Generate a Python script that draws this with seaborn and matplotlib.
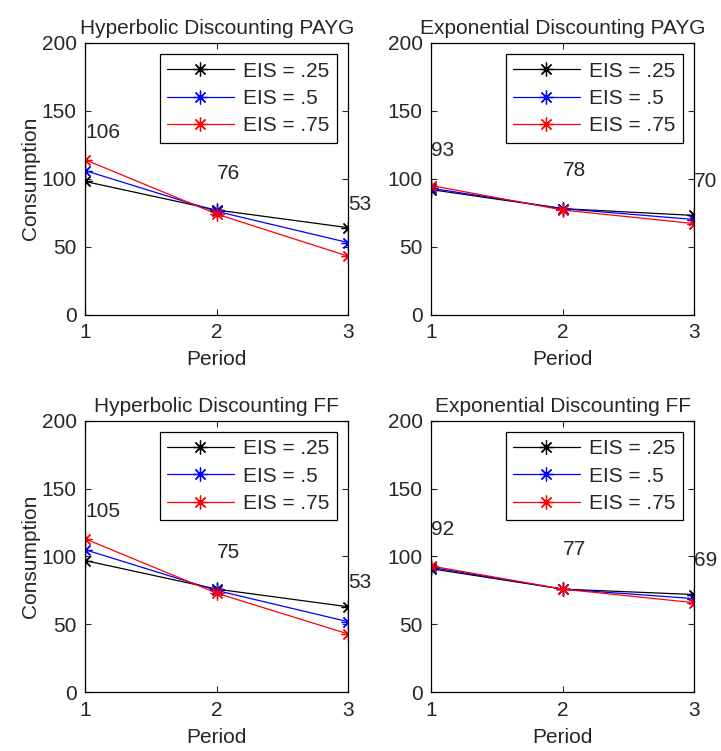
import numpy as np
import pandas as pd
import matplotlib
matplotlib.use("Agg")
import matplotlib.pyplot as plt
import seaborn as sns

# data
periods = [1, 2, 3]
eis_labels = ["EIS = .25", "EIS = .5", "EIS = .75"]
colors = ["black", "blue", "red"]

hyp_payg = [[98, 77, 64], [106, 76, 53], [114, 74, 43]]
exp_payg = [[92, 78, 73], [93, 78, 70], [95, 77, 67]]
hyp_ff = [[97, 76, 63], [105, 75, 52], [113, 73, 43]]
exp_ff = [[91, 76, 72], [92, 76, 69], [93, 76, 66]]

hyp_payg_notes = [106, 76, 53]
exp_payg_notes = [93, 78, 70]
hyp_ff_notes = [105, 75, 53]
exp_ff_notes = [92, 77, 69]

panels = [
    ("Hyperbolic Discounting PAYG", hyp_payg, hyp_payg_notes),
    ("Exponential Discounting PAYG", exp_payg, exp_payg_notes),
    ("Hyperbolic Discounting FF", hyp_ff, hyp_ff_notes),
    ("Exponential Discounting FF", exp_ff, exp_ff_notes),
]

sns.set_theme(style="ticks")
plt.rcParams["font.family"] = ["Liberation Sans", "DejaVu Sans"]
fs = 15

fig = plt.figure(figsize=(7.21, 7.51), dpi=100)
lefts = [0.118, 0.598]
bottoms = [0.581, 0.078]
w, h = 0.365, 0.362

asterisk = (8, 2, 0)

for i, (title, series, notes) in enumerate(panels):
    ax = fig.add_axes([lefts[i % 2], bottoms[i // 2], w, h])
    for vals, lab, col in zip(series, eis_labels, colors):
        df = pd.DataFrame({"Period": periods, "Consumption": vals})
        sns.lineplot(data=df, x="Period", y="Consumption", color=col, label=lab,
                     marker=asterisk, markersize=10, markeredgecolor=col,
                     markeredgewidth=0.9, linewidth=0.9, ax=ax)
    # value annotations above the points
    for x, n in zip(periods, notes):
        ax.text(x, n + 28, str(n), ha="left", va="center", fontsize=fs)

    ax.set_xlim(1, 3)
    ax.set_ylim(0, 200)
    ax.set_xticks([1, 2, 3])
    ax.set_yticks([0, 50, 100, 150, 200])
    ax.tick_params(direction="in", top=True, right=True, length=4, width=0.8,
                   labelsize=fs, pad=6)
    for s in ax.spines.values():
        s.set_linewidth(0.9)
        s.set_color("black")
    ax.set_title(title, fontsize=fs, pad=6)
    ax.set_xlabel("Period", fontsize=fs, labelpad=6)
    if i % 2 == 0:
        ax.set_ylabel("Consumption", fontsize=fs, labelpad=1)
    else:
        ax.set_ylabel("")
    leg = ax.legend(loc="upper right", fontsize=fs, handlelength=3.2,
                    frameon=True, fancybox=False, framealpha=1,
                    borderaxespad=0.55, labelspacing=0.4, handletextpad=0.45,
                    borderpad=0.35)
    leg.get_frame().set_edgecolor("black")
    leg.get_frame().set_linewidth(0.9)

fig.savefig("out.png", dpi=100)
